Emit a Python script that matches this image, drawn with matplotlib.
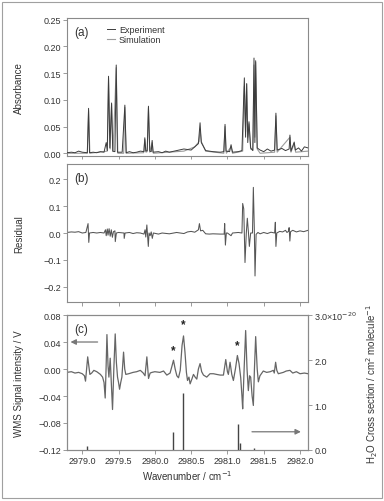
import matplotlib
matplotlib.use("Agg")
import matplotlib.pyplot as plt
from matplotlib.patches import Rectangle

plt.rcParams['font.family'] = ['Liberation Sans Narrow', 'Liberation Sans', 'DejaVu Sans']
plt.rcParams['font.size'] = 6.5

# ---- data ----
# (a) absorbance, experiment trace
abs_exp_x = [2978.79, 2978.85, 2978.9, 2978.95, 2979.0, 2979.07, 2979.087, 2979.10, 2979.15, 2979.2,
             2979.25, 2979.30, 2979.33, 2979.345, 2979.362, 2979.38, 2979.404, 2979.42, 2979.45, 2979.468,
             2979.485, 2979.55, 2979.587, 2979.605, 2979.65, 2979.7, 2979.75, 2979.8, 2979.85, 2979.862,
             2979.875, 2979.895, 2979.912, 2979.93, 2979.95, 2979.963, 2979.975, 2980.05, 2980.1, 2980.15,
             2980.2, 2980.3, 2980.4, 2980.5, 2980.55, 2980.6, 2980.623, 2980.64, 2980.7, 2980.8,
             2980.9, 2980.95, 2980.967, 2980.98, 2981.03, 2981.05, 2981.07, 2981.15, 2981.2, 2981.233,
             2981.25, 2981.265, 2981.28, 2981.297, 2981.32, 2981.35, 2981.366, 2981.378, 2981.389, 2981.41,
             2981.45, 2981.5, 2981.55, 2981.6, 2981.65, 2981.668, 2981.685, 2981.75, 2981.8, 2981.85,
             2981.861, 2981.875, 2981.92, 2981.935, 2981.98, 2982.02, 2982.06, 2982.11]
abs_exp_y = [0.001, 0.002, 0.001, 0.004, 0.002, 0.001, 0.084, 0.001, 0.002, 0.001,
             0.003, 0.002, 0.020, 0.005, 0.144, 0.010, 0.094, 0.004, 0.003, 0.165,
             0.002, 0.002, 0.090, 0.001, 0.003, 0.001, 0.002, 0.004, 0.003, 0.029,
             0.004, 0.005, 0.088, 0.004, 0.003, 0.024, 0.002, 0.003, 0.001, 0.004,
             0.002, 0.005, 0.008, 0.006, 0.012, 0.018, 0.057, 0.020, 0.005, 0.003,
             0.002, 0.003, 0.054, 0.004, 0.003, 0.016, 0.002, 0.003, 0.005, 0.141,
             0.030, 0.130, 0.020, 0.059, 0.010, 0.005, 0.178, 0.020, 0.173, 0.010,
             0.006, 0.003, 0.008, 0.004, 0.006, 0.075, 0.006, 0.009, 0.005, 0.008,
             0.034, 0.004, 0.021, 0.006, 0.010, 0.004, 0.012, 0.010]

# (a) absorbance, simulation trace
abs_sim_x = [2978.79, 2979.07, 2979.087, 2979.105, 2979.345, 2979.362, 2979.385, 2979.404, 2979.425, 2979.468,
             2979.49, 2979.57, 2979.587, 2979.605, 2979.845, 2979.862, 2979.878, 2979.895, 2979.912, 2979.93,
             2979.963, 2979.98, 2980.4, 2980.55, 2980.61, 2980.623, 2980.64, 2980.7, 2980.95, 2980.967,
             2980.985, 2981.05, 2981.07, 2981.21, 2981.233, 2981.25, 2981.265, 2981.28, 2981.297, 2981.32,
             2981.35, 2981.366, 2981.378, 2981.389, 2981.41, 2981.45, 2981.65, 2981.668, 2981.685, 2981.861,
             2981.875, 2981.92, 2981.94, 2982.11]
abs_sim_y = [0.0, 0.0, 0.080, 0.0, 0.004, 0.140, 0.008, 0.092, 0.003, 0.160,
             0.0, 0.0, 0.086, 0.0, 0.001, 0.026, 0.002, 0.003, 0.085, 0.002,
             0.020, 0.0, 0.004, 0.012, 0.022, 0.045, 0.022, 0.004, 0.0, 0.050,
             0.0, 0.012, 0.0, 0.004, 0.125, 0.040, 0.130, 0.030, 0.055, 0.008,
             0.006, 0.165, 0.030, 0.170, 0.008, 0.0, 0.002, 0.070, 0.002, 0.030,
             0.002, 0.018, 0.002, 0.004]

# (b) residual
res_x = [2978.79, 2978.85, 2978.9, 2978.95, 2979.0, 2979.05, 2979.08, 2979.09, 2979.10, 2979.15,
         2979.2, 2979.25, 2979.3, 2979.32, 2979.33, 2979.345, 2979.355, 2979.37, 2979.385, 2979.40,
         2979.415, 2979.43, 2979.45, 2979.455, 2979.47, 2979.5, 2979.575, 2979.578, 2979.59, 2979.65,
         2979.7, 2979.75, 2979.8, 2979.85, 2979.865, 2979.875, 2979.89, 2979.91, 2979.92, 2979.935,
         2979.95, 2979.965, 2979.98, 2980.05, 2980.1, 2980.2, 2980.3, 2980.4, 2980.45, 2980.5,
         2980.55, 2980.6, 2980.614, 2980.63, 2980.66, 2980.7, 2980.75, 2980.8, 2980.9, 2980.955,
         2980.962, 2980.972, 2980.985, 2981.0, 2981.05, 2981.07, 2981.15, 2981.2, 2981.21, 2981.225,
         2981.242, 2981.26, 2981.274, 2981.29, 2981.302, 2981.32, 2981.345, 2981.357, 2981.37, 2981.38,
         2981.395, 2981.42, 2981.45, 2981.5, 2981.55, 2981.6, 2981.65, 2981.66, 2981.668, 2981.68,
         2981.72, 2981.76, 2981.8, 2981.82, 2981.84, 2981.85, 2981.86, 2981.87, 2981.9, 2981.95,
         2982.0, 2982.05, 2982.11]
res_y = [0.002, 0.004, 0.003, 0.005, 0.0, 0.002, 0.035, -0.035, 0.0, 0.002,
         0.0, 0.002, 0.0, 0.012, -0.010, 0.015, -0.008, 0.016, -0.012, 0.012,
         -0.016, 0.005, 0.008, -0.032, 0.0, 0.002, 0.0, -0.020, 0.0, 0.002,
         -0.002, 0.001, 0.0, -0.004, 0.012, -0.015, 0.030, -0.050, 0.0, -0.010,
         0.004, -0.020, 0.0, -0.004, 0.0, -0.003, 0.002, -0.002, 0.004, 0.006,
         0.003, 0.012, 0.035, 0.008, 0.010, -0.003, -0.004, -0.003, -0.004, -0.004,
         0.035, -0.045, 0.0, 0.0, -0.010, 0.0, 0.002, 0.0, 0.110, 0.090,
         -0.110, 0.0, 0.055, 0.0, -0.050, 0.0, 0.0, 0.170, 0.020, -0.160,
         -0.005, 0.002, -0.003, 0.002, -0.002, 0.003, 0.0, 0.040, -0.050, 0.0,
         0.006, 0.004, 0.010, 0.002, 0.006, 0.020, -0.030, 0.005, 0.010, 0.004,
         0.008, 0.005, 0.010]

# (c) WMS signal
wms_x = [2978.79, 2978.85, 2978.9, 2978.95, 2979.0, 2979.03, 2979.045, 2979.06, 2979.075, 2979.09,
         2979.105, 2979.13, 2979.16, 2979.2, 2979.25, 2979.28, 2979.30, 2979.316, 2979.328, 2979.340,
         2979.355, 2979.367, 2979.385, 2979.40, 2979.417, 2979.435, 2979.454, 2979.47, 2979.486, 2979.50,
         2979.514, 2979.53, 2979.546, 2979.569, 2979.585, 2979.60, 2979.64, 2979.70, 2979.75, 2979.80,
         2979.84, 2979.865, 2979.89, 2979.913, 2979.935, 2979.96, 2980.0, 2980.07, 2980.12, 2980.165,
         2980.21, 2980.235, 2980.257, 2980.28, 2980.303, 2980.326, 2980.35, 2980.375, 2980.395, 2980.415,
         2980.435, 2980.45, 2980.47, 2980.486, 2980.51, 2980.532, 2980.555, 2980.578, 2980.60, 2980.623,
         2980.645, 2980.67, 2980.715, 2980.76, 2980.807, 2980.85, 2980.9, 2980.945, 2980.977, 2981.0,
         2981.013, 2981.036, 2981.06, 2981.082, 2981.11, 2981.137, 2981.16, 2981.183, 2981.20, 2981.21,
         2981.23, 2981.251, 2981.27, 2981.288, 2981.305, 2981.320, 2981.34, 2981.357, 2981.372, 2981.389,
         2981.41, 2981.426, 2981.448, 2981.494, 2981.54, 2981.59, 2981.632, 2981.645, 2981.664, 2981.68,
         2981.701, 2981.77, 2981.81, 2981.861, 2981.9, 2981.95, 2982.0, 2982.06, 2982.11]
wms_y = [-0.005, -0.004, -0.006, -0.005, -0.007, -0.010, -0.018, 0.000, 0.018, 0.005,
         -0.008, -0.006, -0.002, -0.004, -0.008, -0.012, -0.020, -0.043, 0.000, 0.051,
         0.005, -0.012, 0.016, -0.020, -0.060, 0.000, 0.052, 0.010, -0.012, -0.020,
         -0.030, -0.020, -0.012, 0.025, 0.000, -0.008, -0.007, -0.005, -0.004, -0.002,
         -0.006, -0.010, 0.018, -0.014, -0.006, -0.005, -0.004, -0.005, -0.003, -0.009,
         -0.006, 0.004, 0.013, 0.000, -0.010, -0.013, -0.002, 0.035, 0.049, 0.025,
         -0.005, -0.017, -0.012, -0.022, -0.015, -0.008, -0.012, -0.015, 0.000, 0.008,
         -0.004, -0.009, -0.012, -0.007, -0.007, -0.008, -0.009, -0.009, 0.014, -0.004,
         -0.008, 0.010, -0.008, -0.017, 0.000, 0.020, 0.008, -0.013, -0.040, -0.059,
         0.000, 0.057, 0.000, -0.032, -0.010, -0.012, -0.040, -0.054, 0.000, 0.048,
         0.000, -0.019, -0.010, -0.003, -0.005, -0.004, -0.002, -0.006, 0.010, -0.002,
         -0.007, -0.005, -0.003, -0.002, -0.006, -0.004, -0.007, -0.006, -0.007]

# (c) H2O cross-section lines (units of 1e-20 cm^2/molecule)
h2o_pos = [2979.06, 2980.245, 2980.385, 2981.145, 2981.17, 2981.37]
h2o_val = [0.09, 0.41, 1.27, 0.575, 0.15, 0.05]

# asterisks marking the water lines in the WMS trace
star_x = [2980.25, 2980.385, 2981.14]
star_y = [0.028, 0.066, 0.036]

xticks = [2979.0, 2979.5, 2980.0, 2980.5, 2981.0, 2981.5, 2982.0]
xticklabels = ['2979.0', '2979.5', '2980.0', '2980.5', '2981.0', '2981.5', '2982.0']
abs_ticks = [0.00, 0.05, 0.10, 0.15, 0.20, 0.25]
res_ticks = [-0.2, -0.1, 0.0, 0.1, 0.2]
wms_ticks = [-0.12, -0.08, -0.04, 0.00, 0.04, 0.08]
cs_ticks = [0.0, 1.0, 2.0, 3.0]
cs_ticklabels = ['0.0', '1.0', '2.0', '3.0\u00d710$^{-20}$']

# ---- figure ----
spine_c = '#8a8a8a'
text_c = '#333333'
fig = plt.figure(figsize=(3.84, 5.02), dpi=100)
fig.patches.append(Rectangle((0.006, 0.005), 0.988, 0.99, transform=fig.transFigure,
                             fill=False, edgecolor='#a0a0a0', linewidth=0.8))

L, W = 0.1745, 0.6276
ax_a = fig.add_axes([L, 0.6863, W, 0.2749])
ax_b = fig.add_axes([L, 0.3964, W, 0.2749])
ax_c = fig.add_axes([L, 0.1016, W, 0.2689])
ax_r = ax_c.twinx()


def style(ax):
    for s in ax.spines.values():
        s.set_color(spine_c)
        s.set_linewidth(0.8)
    ax.tick_params(direction='out', length=3, width=0.6, color=spine_c,
                   labelcolor=text_c, labelsize=6.5, pad=1.5)
    ax.set_xlim(2978.79, 2982.11)
    ax.set_xticks(xticks)


for ax in (ax_a, ax_b, ax_c, ax_r):
    style(ax)

# (a)
ax_a.plot(abs_sim_x, abs_sim_y, color='#9c9c9c', lw=0.8, label='Simulation', zorder=2)
ax_a.plot(abs_exp_x, abs_exp_y, color='#3c3c3c', lw=0.7, label='Experiment', zorder=3)
ax_a.set_ylim(-0.006, 0.252)
ax_a.set_yticks(abs_ticks)
ax_a.set_yticklabels(['0.00', '0.05', '0.10', '0.15', '0.20', '0.25'])
ax_a.tick_params(axis='x', labelbottom=False, length=2)
ax_a.set_ylabel('Absorbance', fontsize=7, color=text_c)
ax_a.yaxis.set_label_coords(-0.178, 0.5)
ax_a.text(0.03, 0.9, '(a)', transform=ax_a.transAxes, fontsize=8.5, color=text_c, va='center')
h, l = ax_a.get_legend_handles_labels()
ax_a.legend(h[::-1], l[::-1], loc='upper left', bbox_to_anchor=(0.14, 1.0), frameon=False,
            fontsize=6.5, handlelength=0.9, handletextpad=0.4, labelspacing=0.15,
            borderaxespad=0.3, labelcolor=text_c)

# (b)
ax_b.plot(res_x, res_y, color='#555555', lw=0.75)
ax_b.set_ylim(-0.257, 0.257)
ax_b.set_yticks(res_ticks)
ax_b.set_yticklabels(['\u22120.2', '\u22120.1', '0.0', '0.1', '0.2'])
ax_b.tick_params(axis='x', labelbottom=False)
ax_b.set_ylabel('Residual', fontsize=7, color=text_c)
ax_b.yaxis.set_label_coords(-0.178, 0.5)
ax_b.text(0.03, 0.9, '(b)', transform=ax_b.transAxes, fontsize=8.5, color=text_c, va='center')

# (c)
ax_c.plot(wms_x, wms_y, color='#666666', lw=0.9, zorder=3)
ax_c.set_ylim(-0.12, 0.08)
ax_c.set_yticks(wms_ticks)
ax_c.set_yticklabels(['\u22120.12', '\u22120.08', '\u22120.04', '0.00', '0.04', '0.08'])
ax_c.set_xticklabels(xticklabels)
ax_c.set_xlabel('Wavenumber / cm$^{-1}$', fontsize=7, color=text_c, labelpad=2)
ax_c.set_ylabel('WMS Signal intensity / V', fontsize=7, color=text_c)
ax_c.yaxis.set_label_coords(-0.178, 0.5)
ax_c.text(0.03, 0.9, '(c)', transform=ax_c.transAxes, fontsize=8.5, color=text_c, va='center')
for sx, sy in zip(star_x, star_y):
    ax_c.text(sx, sy, '*', ha='center', va='center', fontsize=8.5, color='#222222',
              fontweight='bold')
ax_c.annotate('', xy=(2978.80, 0.04), xytext=(2979.25, 0.04),
              arrowprops=dict(arrowstyle='-|>', color='#777777', lw=0.9, mutation_scale=8))
ax_c.annotate('', xy=(2982.05, -0.093), xytext=(2981.30, -0.093),
              arrowprops=dict(arrowstyle='-|>', color='#777777', lw=0.9, mutation_scale=8))

ax_r.vlines(h2o_pos, 0, h2o_val, color='#444444', lw=1.0)
ax_r.set_ylim(0.0, 3.0)
ax_r.set_yticks(cs_ticks)
ax_r.set_yticklabels(cs_ticklabels)
ax_r.set_ylabel('H$_2$O Cross section / cm$^2$ molecule$^{-1}$', fontsize=7, color=text_c,
                rotation=90)
ax_r.yaxis.set_label_coords(1.235, 0.5)

fig.savefig('out.png', dpi=100)
